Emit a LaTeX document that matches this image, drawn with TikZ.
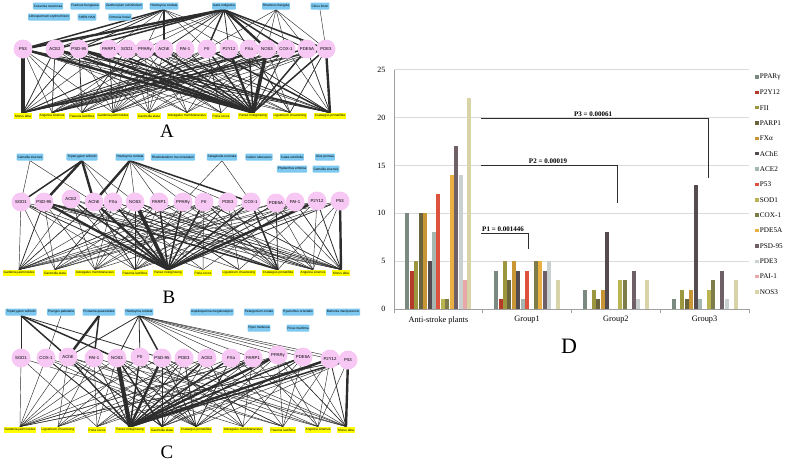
\documentclass[tikz,border=0pt]{standalone}
\usepackage{fontspec}
\setmainfont{Liberation Serif}
\newfontfamily\netfont{Liberation Sans}
\pgfdeclarelayer{bg}
\pgfsetlayers{bg,main}
\definecolor{tpink}{RGB}{248,200,245}
\definecolor{pblue}{RGB}{125,200,240}
\definecolor{pyellow}{RGB}{255,255,0}
\definecolor{edgec}{RGB}{45,45,45}
\definecolor{gridc}{RGB}{218,218,218}
\definecolor{axisc}{RGB}{160,160,160}
\definecolor{bar0}{RGB}{122,138,128}
\definecolor{bar1}{RGB}{180,58,42}
\definecolor{bar2}{RGB}{156,150,62}
\definecolor{bar3}{RGB}{105,100,62}
\definecolor{bar4}{RGB}{200,150,52}
\definecolor{bar5}{RGB}{85,76,82}
\definecolor{bar6}{RGB}{166,182,176}
\definecolor{bar7}{RGB}{220,82,60}
\definecolor{bar8}{RGB}{186,180,82}
\definecolor{bar9}{RGB}{126,124,72}
\definecolor{bar10}{RGB}{234,176,66}
\definecolor{bar11}{RGB}{110,96,102}
\definecolor{bar12}{RGB}{200,208,208}
\definecolor{bar13}{RGB}{232,168,168}
\definecolor{bar14}{RGB}{216,212,168}
\newcommand{\tgtfont}{\netfont\fontsize{4.3}{5}\selectfont}
\newcommand{\plfont}{\netfont\fontsize{3.2}{4}\selectfont}
\tikzset{
  tgt/.style={circle, fill=tpink, minimum size=19pt, inner sep=0pt, font=\tgtfont},
  topp/.style={fill=pblue, rounded corners=0.8pt, inner sep=0.9pt, minimum height=7pt, font=\plfont},
  botp/.style={fill=pyellow, inner sep=0.9pt, minimum height=6.5pt, font=\plfont},
  edge/.style={draw=edgec},
  thin edge/.style={draw=edgec, line width=0.45pt},
  brk/.style={draw=edgec, line width=0.9pt},
  panlab/.style={font=\fontsize{19}{19}\selectfont},
  catlab/.style={font=\fontsize{8.3}{9}\selectfont},
  ticklab/.style={font=\fontsize{8}{9}\selectfont, anchor=east},
  leglab/.style={font=\fontsize{7.2}{8}\selectfont, anchor=west, inner sep=0.5pt},
  plab/.style={font=\fontsize{7}{8}\selectfont\bfseries, anchor=south, inner sep=0.8pt}
}
\begin{document}
\begin{tikzpicture}[x=1pt,y=-1pt]
\useasboundingbox (0,0) rectangle (787,466);

% ================= PANEL A =================
\foreach \n/\x/\l in {Cuss/48/Cussonia racemosa, Frax/85/Fraxinus bungeana, Zant/124/Zanthoxylum schinifolium, Hout/164/Houttuynia cordata, Isat/224/Isatis indigotica, Rham/276/Rhamnus frangula, Citr/320/Citrus limon}
  \node[topp] (a\n) at (\x,6) {\l};
\foreach \n/\x/\l in {Lith/49/Lithospermum erythrorhizon, Shen/87/SHEN HAO, Ormo/120/Ormosia hosiei}
  \node[topp] (a\n) at (\x,17) {\l};
\foreach \n/\x/\l in {P53/23/P53, ACE2/55/ACE2, PSD/79/PSD-95, PARP1/109/PARP1, SOD1/127/SOD1, PPARg/145/PPARγ, AChE/164/AChE, PAI1/185/PAI-1, FII/207/FII, P2Y12/229/P2Y12, FXa/249/FXα, NOS3/267/NOS3, COX1/286/COX-1, PDE5A/307/PDE5A, PDE3/326/PDE3}
  \node[tgt] (a\n) at (\x,49) {\l};
\foreach \n/\x/\l in {Morus/23/Morus alba, Angel/52/Angelica sinensis, Paeon/82/Paeonia lactiflora, Garde/113/Gardenia jasminoides, Gastr/149/Gastrodia elata, Astra/187/Astragalus membranaceus, Poria/221/Poria cocos, Panax/253/Panax notoginseng, Ligus/290/Ligusticum chuanxiong, Crata/330/Crataegus pinnatifida}
  \node[botp] (a\n) at (\x,116) {\l};
\node[panlab] (labA) at (167,131) {A};

\begin{pgfonlayer}{bg}
\foreach \t/\p/\w in {P53/Morus/3.6, P53/Panax/2.4, P53/Garde/0.45, P53/Angel/0.45, P53/Crata/0.8, P53/Ligus/0.45,
 ACE2/Panax/2.4, ACE2/Morus/0.8, ACE2/Angel/0.45, ACE2/Gastr/0.45, ACE2/Crata/0.8,
 PSD/Paeon/0.8, PSD/Panax/2.4, PSD/Garde/0.45, PSD/Morus/0.45, PSD/Crata/1.5, PSD/Astra/0.45,
 PARP1/Panax/1.5, PARP1/Garde/0.45, PARP1/Poria/0.45, PARP1/Morus/0.45,
 SOD1/Panax/0.8, SOD1/Garde/0.45, SOD1/Paeon/0.45, SOD1/Gastr/0.45,
 PPARg/Panax/1.5, PPARg/Gastr/0.45, PPARg/Garde/0.45, PPARg/Ligus/0.45,
 AChE/Panax/1.5, AChE/Garde/0.45, AChE/Astra/0.45, AChE/Angel/0.45, AChE/Crata/0.8, AChE/Morus/0.8,
 PAI1/Panax/0.8, PAI1/Gastr/0.45, PAI1/Paeon/0.45,
 FII/Panax/1.5, FII/Crata/1.5, FII/Garde/0.45, FII/Angel/0.45, FII/Poria/0.45,
 P2Y12/Panax/2.4, P2Y12/Morus/0.8, P2Y12/Angel/0.45, P2Y12/Crata/0.45,
 FXa/Panax/1.5, FXa/Garde/0.45, FXa/Angel/0.45, FXa/Ligus/0.45,
 NOS3/Panax/3.6, NOS3/Angel/0.8, NOS3/Morus/1.5, NOS3/Garde/0.45, NOS3/Astra/0.45, NOS3/Ligus/0.45,
 COX1/Panax/0.8, COX1/Paeon/0.45, COX1/Angel/0.8, COX1/Crata/0.45, COX1/Gastr/0.45,
 PDE5A/Panax/1.5, PDE5A/Angel/0.45, PDE5A/Morus/1.5, PDE5A/Crata/0.45,
 PDE3/Crata/2.4, PDE3/Panax/1.5, PDE3/Angel/0.8, PDE3/Garde/0.45, PDE3/Morus/0.45, PDE3/Ligus/0.45}
  \draw[edge, line width=\w pt] (a\t.center) -- (a\p.north);
\foreach \t [count=\i] in {P53,ACE2,PSD,PARP1,SOD1,PPARg,AChE,PAI1,FII,P2Y12,FXa,NOS3,COX1,PDE5A,PDE3}
  \foreach \p [count=\j] in {Morus,Angel,Paeon,Garde,Gastr,Astra,Poria,Panax,Ligus,Crata} {
    \pgfmathtruncatemacro{\r}{mod(\i*7+\j*3,4)}
    \ifnum\r=0 \draw[thin edge] (a\t.center) -- (a\p.north); \fi
  }
\foreach \p/\t/\w in {Isat/P53/2.4, Isat/ACE2/1.5, Isat/PSD/1.5, Isat/AChE/0.8, Isat/PPARg/0.45, Isat/FII/1.5, Isat/PAI1/0.45, Isat/P2Y12/0.8, Isat/FXa/0.8, Isat/NOS3/2.4, Isat/COX1/1.5, Isat/PDE5A/0.8, Isat/PDE3/1.5, Isat/SOD1/0.45,
 Hout/P53/1.5, Hout/ACE2/0.8, Hout/PSD/0.8, Hout/AChE/2.4, Hout/PPARg/0.45, Hout/FII/0.45, Hout/P2Y12/0.45, Hout/PARP1/0.45, Hout/NOS3/0.45,
 Rham/FXa/0.45, Rham/NOS3/0.45, Rham/PDE5A/0.45, Rham/PDE3/0.45, Rham/FII/0.45, Rham/COX1/0.45,
 Citr/PDE3/0.45}
  \draw[edge, line width=\w pt] (a\p.south) -- (a\t.center);
\end{pgfonlayer}

% ================= PANEL B =================
\foreach \n/\x/\l in {Came/30/Camellia sinensis, Trip/82/Tripterygium wilfordii, Hout/130/Houttuynia cordata, Rhod/173/Rhododendron mucronulatum, Sela/222/Selaginella uncinata, Isod/259/Isodon rubescens, Cate/292/Catea urticifolia, Ulva/325/Ulva pertusa}
  \node[topp] (b\n) at (\x,157) {\l};
\foreach \n/\x/\l in {Phyl/292/Phyllanthus emblica, Camb/326/Camellia sinensis}
  \node[topp] (b\n) at (\x,169) {\l};
\foreach \n/\x/\y/\l in {SOD1/21/202/SOD1, PSD/44/202/PSD-95, ACE2/71/199/ACE2, AChE/94/202/AChE, FXa/113/202/FXα, NOS3/135/202/NOS3, PARP1/159/202/PARP1, PPARg/183/202/PPARγ, FII/204/202/FII, PDE3/228/202/PDE3, COX1/251/202/COX-1, PDE5A/276/203/PDE5A, PAI1/295/202/PAI-1, P2Y12/317/201/P2Y12, P53/340/201/P53}
  \node[tgt] (b\n) at (\x,\y) {\l};
\foreach \n/\x/\l in {Garde/19/Gardenia jasminoides, Gastr/55/Gastrodia elata, Astra/95/Astragalus membranaceus, Paeon/135/Paeonia lactiflora, Panax/168/Panax notoginseng, Poria/203/Poria cocos, Ligus/239/Ligusticum chuanxiong, Crata/278/Crataegus pinnatifida, Angel/313/Angelica sinensis, Morus/341/Morus alba}
  \node[botp] (b\n) at (\x,273) {\l};
\node[panlab] (labB) at (169,297) {B};

\begin{pgfonlayer}{bg}
\foreach \t/\p/\w in {SOD1/Garde/0.45, SOD1/Panax/0.8, SOD1/Paeon/0.45,
 PSD/Garde/0.8, PSD/Gastr/0.45, PSD/Panax/2.4, PSD/Crata/1.5, PSD/Morus/0.45, PSD/Angel/0.45,
 ACE2/Panax/1.5, ACE2/Astra/0.45, ACE2/Garde/0.45, ACE2/Morus/0.45,
 AChE/Panax/2.4, AChE/Garde/0.45, AChE/Paeon/0.8, AChE/Crata/0.8, AChE/Angel/0.45,
 FXa/Panax/1.5, FXa/Gastr/0.45, FXa/Astra/0.45, FXa/Morus/0.45,
 NOS3/Panax/3.6, NOS3/Paeon/0.8, NOS3/Garde/0.45, NOS3/Ligus/0.45, NOS3/Angel/0.8, NOS3/Morus/0.45,
 PARP1/Panax/1.5, PARP1/Astra/0.45, PARP1/Gastr/0.45, PARP1/Morus/0.45,
 PPARg/Panax/1.5, PPARg/Paeon/0.45, PPARg/Garde/0.45, PPARg/Crata/0.45,
 FII/Panax/1.5, FII/Crata/0.8, FII/Garde/0.45, FII/Morus/0.45, FII/Astra/0.45,
 PDE3/Panax/0.8, PDE3/Paeon/0.45, PDE3/Crata/0.45, PDE3/Gastr/0.45,
 COX1/Panax/1.5, COX1/Crata/1.5, COX1/Garde/0.45, COX1/Angel/0.45,
 PDE5A/Crata/0.8, PDE5A/Panax/0.8, PDE5A/Gastr/0.45, PDE5A/Morus/0.45,
 PAI1/Panax/0.8, PAI1/Paeon/0.45, PAI1/Morus/0.45,
 P2Y12/Panax/2.4, P2Y12/Morus/0.8, P2Y12/Garde/0.45, P2Y12/Angel/0.45,
 P53/Morus/2.4, P53/Panax/0.8, P53/Garde/0.45, P53/Angel/0.45}
  \draw[edge, line width=\w pt] (b\t.center) -- (b\p.north);
\foreach \t [count=\i] in {SOD1,PSD,ACE2,AChE,FXa,NOS3,PARP1,PPARg,FII,PDE3,COX1,PDE5A,PAI1,P2Y12,P53}
  \foreach \p [count=\j] in {Garde,Gastr,Astra,Paeon,Panax,Poria,Ligus,Crata,Angel,Morus} {
    \pgfmathtruncatemacro{\r}{mod(\i*5+\j*3+1,4)}
    \ifnum\r=0 \draw[thin edge] (b\t.center) -- (b\p.north); \fi
  }
\foreach \p/\t/\w in {Came/SOD1/0.45, Came/AChE/0.45,
 Trip/SOD1/1.5, Trip/PSD/2.4, Trip/AChE/2.4, Trip/NOS3/0.45, Trip/FXa/0.45,
 Hout/AChE/2.4, Hout/FXa/0.8, Hout/NOS3/0.45, Hout/PARP1/0.45, Hout/PPARg/0.45, Hout/FII/0.45, Hout/PDE3/0.45, Hout/COX1/1.5,
 Sela/PPARg/0.45, Sela/COX1/0.45}
  \draw[edge, line width=\w pt] (b\p.south) -- (b\t.center);
\end{pgfonlayer}

% ================= PANEL C =================
\foreach \n/\x/\l in {Trip/21/Tripterygium wilfordii, Pran/61/Prangos pabularia, Picr/99/Picrasma quassioides, Hout/139/Houttuynia cordata, Aspi/212/Aspidosperma megalocarpon, Pela/259/Pelargonium zonale, Hyac/298/Hyacinthus orientalis, Maho/343/Mahonia manipurensis}
  \node[topp] (c\n) at (\x,312) {\l};
\foreach \n/\x/\l in {Pipe/259/Piper mullesua, Pinu/298/Pinus maritima}
  \node[topp] (c\n) at (\x,328) {\l};
\foreach \n/\x/\y/\l in {SOD1/21/358/SOD1, COX1/46/358/COX-1, AChE/68/357/AChE, PAI1/94/358/PAI-1, NOS3/117/358/NOS3, FII/140/357/FII, PSD/162/358/PSD-95, PDE3/184/358/PDE3, ACE2/207/358/ACE2, FXa/231/358/FXα, PARP1/253/358/PARP1, PPARg/278/355/PPARγ, PDE5A/303/357/PDE5A, P2Y12/330/359/P2Y12, P53/348/360/P53}
  \node[tgt] (c\n) at (\x,\y) {\l};
\foreach \n/\x/\l in {Garde/20/Gardenia jasminoides, Ligus/58/Ligusticum chuanxiong, Poria/97/Poria cocos, Panax/130/Panax notoginseng, Gastr/162/Gastrodia elata, Crata/196/Crataegus pinnatifida, Astra/243/Astragalus membranaceus, Paeon/283/Paeonia lactiflora, Angel/318/Angelica sinensis, Morus/346/Morus alba}
  \node[botp] (c\n) at (\x,430) {\l};
\node[panlab] (labC) at (167,452) {C};

\begin{pgfonlayer}{bg}
\foreach \t/\p/\w in {SOD1/Garde/0.45,
 COX1/Panax/0.8, COX1/Garde/0.45, COX1/Crata/0.45,
 AChE/Ligus/0.45, AChE/Panax/1.5, AChE/Gastr/0.8, AChE/Crata/0.45, AChE/Paeon/0.45,
 PAI1/Panax/0.8, PAI1/Poria/0.45, PAI1/Garde/0.45,
 NOS3/Panax/4.2, NOS3/Gastr/1.5, NOS3/Crata/0.8, NOS3/Morus/0.45, NOS3/Angel/0.45, NOS3/Garde/0.45,
 FII/Panax/1.5, FII/Ligus/0.45, FII/Crata/0.45, FII/Paeon/0.45,
 PSD/Panax/2.4, PSD/Gastr/0.8, PSD/Crata/0.8, PSD/Morus/0.45, PSD/Astra/0.45,
 PDE3/Panax/0.8, PDE3/Poria/0.45, PDE3/Crata/0.45, PDE3/Gastr/0.45,
 ACE2/Panax/1.5, ACE2/Gastr/0.45, ACE2/Astra/0.45, ACE2/Garde/0.45,
 FXa/Panax/1.5, FXa/Crata/0.8, FXa/Ligus/0.45, FXa/Morus/0.45,
 PARP1/Panax/1.5, PARP1/Poria/0.45, PARP1/Astra/0.45, PARP1/Garde/0.45,
 PPARg/Panax/2.4, PPARg/Gastr/0.8, PPARg/Paeon/0.45, PPARg/Morus/0.45, PPARg/Angel/0.45,
 PDE5A/Panax/1.5, PDE5A/Crata/0.8, PDE5A/Paeon/0.45, PDE5A/Morus/0.45,
 P2Y12/Panax/2.4, P2Y12/Gastr/0.45, P2Y12/Morus/0.8, P2Y12/Angel/0.45,
 P53/Morus/2.4, P53/Panax/1.5, P53/Crata/0.45, P53/Garde/0.45}
  \draw[edge, line width=\w pt] (c\t.center) -- (c\p.north);
\foreach \t [count=\i] in {SOD1,COX1,AChE,PAI1,NOS3,FII,PSD,PDE3,ACE2,FXa,PARP1,PPARg,PDE5A,P2Y12,P53}
  \foreach \p [count=\j] in {Garde,Ligus,Poria,Panax,Gastr,Crata,Astra,Paeon,Angel,Morus} {
    \pgfmathtruncatemacro{\r}{mod(\i*3+\j*5+2,4)}
    \ifnum\r=0 \draw[thin edge] (c\t.center) -- (c\p.north); \fi
  }
\foreach \p/\t/\w in {Trip/SOD1/0.8, Trip/AChE/1.5, Trip/NOS3/1.5, Trip/PSD/0.8,
 Pran/COX1/0.45,
 Picr/AChE/2.4, Picr/PAI1/1.5,
 Hout/NOS3/0.8, Hout/FII/0.8, Hout/AChE/0.8, Hout/PSD/1.5, Hout/ACE2/0.45, Hout/FXa/0.45, Hout/PARP1/0.45, Hout/PPARg/0.45, Hout/PDE5A/0.45, Hout/P2Y12/0.45, Hout/P53/0.45}
  \draw[edge, line width=\w pt] (c\p.south) -- (c\t.center);
\end{pgfonlayer}

% ================= PANEL D (chart) =================
\foreach \v in {5,10,15,20,25}
  \draw[gridc, line width=0.6pt] (394,{309-9.57*\v}) -- (749,{309-9.57*\v});
\draw[axisc, line width=0.6pt] (394,70) -- (394,309);
\draw[axisc, line width=0.6pt] (394,309) -- (749,309);
\foreach \x in {394,482.75,571.5,660.25,749}
  \draw[axisc, line width=0.6pt] (\x,309) -- (\x,313);
\foreach \v in {0,5,10,15,20,25}
  \node[ticklab] (yt\v) at (389,{309-9.57*\v}) {\v};

\foreach \vals [count=\g from 0] in {{10,4,5,10,10,5,8,12,1,1,14,17,14,3,22},{4,1,5,3,5,4,1,4,0,5,5,4,5,0,3},{2,0,2,1,2,8,0,0,3,3,0,4,1,0,3},{1,0,2,1,2,13,1,0,2,3,0,4,1,0,3}} {
  \foreach \v [count=\i from 0] in \vals {
    \pgfmathsetmacro{\bx}{394+88.75*(\g+0.5)+(\i-7)*4.43}
    \ifnum\v>0
      \fill[fill=bar\i] ({\bx-2},309) rectangle ({\bx+2},{309-9.57*\v});
    \fi
  }
}

\node[catlab] (cat0) at (438.4,320) {Anti-stroke plants};
\node[catlab] (cat1) at (527.1,320) {Group1};
\node[catlab] (cat2) at (615.9,320) {Group2};
\node[catlab] (cat3) at (704.6,320) {Group3};

% significance brackets
\coordinate (p3a) at (481,118); \coordinate (p3b) at (708,118); \coordinate (p3c) at (708,178);
\coordinate (p2a) at (481,165); \coordinate (p2b) at (617,165); \coordinate (p2c) at (617,203);
\coordinate (p1a) at (481,233); \coordinate (p1b) at (528,233); \coordinate (p1c) at (528,249);
\draw[brk] (p3a) -- (p3b) -- (p3c);
\draw[brk] (p2a) -- (p2b) -- (p2c);
\draw[brk] (p1a) -- (p1b) -- (p1c);
\node[plab] (p3) at (593,117.5) {P3 = 0.00061};
\node[plab] (p2) at (548,164.5) {P2 = 0.00019};
\node[plab] (p1) at (503,232.5) {P1 = 0.001446};

% legend
\foreach \l [count=\i from 0] in {PPARγ, P2Y12, FII, PARP1, FXα, AChE, ACE2, P53, SOD1, COX-1, PDE5A, PSD-95, PDE3, PAI-1, NOS3} {
  \pgfmathsetmacro{\ly}{77+15.35*\i}
  \fill[fill=bar\i] (755.2,{\ly-1.7}) rectangle (758.6,{\ly+1.7});
  \node[leglab] (leg\i) at (759.2,\ly) {\l};
}

\node[font=\fontsize{22}{22}\selectfont] (labD) at (569,346) {D};
\end{tikzpicture}
\end{document}
